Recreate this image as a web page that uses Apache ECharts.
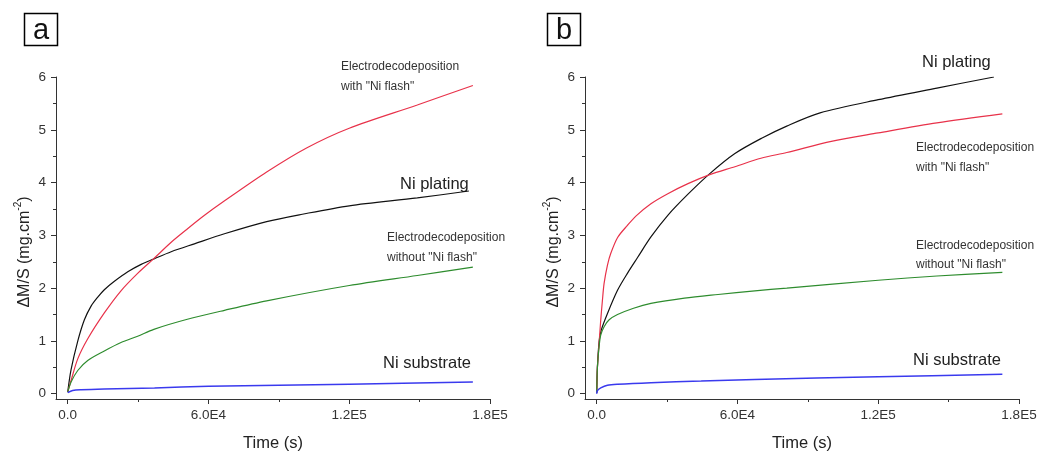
<!DOCTYPE html>
<html>
<head>
<meta charset="utf-8">
<script src="https://cdn.jsdelivr.net/npm/echarts@6/dist/echarts.min.js"></script>
<style>
  html, body { margin: 0; padding: 0; background: #fff; }
  #chart { width: 1039px; height: 453px; }
</style>
</head>
<body>
<div id="chart"></div>
<script>
// Mass gain per unit area (ΔM/S) versus time for two deposition conditions, panels a and b

const xTickValues = [0, 60000, 120000, 180000];
const xTickLabels = ['0.0', '6.0E4', '1.2E5', '1.8E5'];
const xMinorValues = [30000, 90000, 150000];
const yTickValues = [0, 1, 2, 3, 4, 5, 6];
const yTickLabels = ['0', '1', '2', '3', '4', '5', '6'];
const yMinorValues = [0.5, 1.5, 2.5, 3.5, 4.5, 5.5];

const seriesNames = ['Ni plating', 'Electrodecodeposition with "Ni flash"',
  'Electrodecodeposition without "Ni flash"', 'Ni substrate'];
const seriesColors = ['#111111', '#e8324a', '#2e8c2e', '#3a3aee'];

// panel a : [time (s), ΔM/S (mg.cm-2)]
const aPlating = [[0, 0.03], [1400, 0.45], [4300, 1.0], [7100, 1.40], [9950, 1.66], [12800, 1.83],
  [15600, 1.97], [19900, 2.13], [25600, 2.31], [31300, 2.45], [37000, 2.56], [44100, 2.69],
  [54000, 2.84], [66800, 3.03], [84800, 3.26], [100000, 3.40], [120000, 3.56], [149000, 3.71],
  [171000, 3.84]];
const aFlash = [[0, 0.03], [1420, 0.25], [4270, 0.66], [8530, 1.04], [15600, 1.53], [22700, 1.95],
  [29800, 2.28], [36700, 2.56], [44100, 2.87], [51200, 3.13], [58300, 3.38], [66100, 3.63],
  [84800, 4.20], [102000, 4.66], [120000, 5.03], [149000, 5.47], [172700, 5.84]];
const aNoFlash = [[0, 0.03], [1420, 0.22], [4270, 0.44], [8530, 0.63], [15600, 0.81], [22700, 0.97],
  [29800, 1.09], [36700, 1.22], [51000, 1.41], [66800, 1.58], [84800, 1.76], [120000, 2.05],
  [149000, 2.24], [172700, 2.40]];
const aSubstrate = [[0, 0.02], [2100, 0.06], [5700, 0.075], [15600, 0.09], [37000, 0.11],
  [60000, 0.14], [120000, 0.18], [172700, 0.22]];

// panel b
const bPlating = [[0, 0.02], [290, 0.5], [1000, 0.98], [1880, 1.2], [4570, 1.52], [8860, 1.96],
  [13200, 2.29], [17400, 2.58], [23100, 2.97], [30300, 3.38], [38900, 3.78], [48200, 4.17],
  [58900, 4.55], [70300, 4.84], [81000, 5.07], [95200, 5.32], [120000, 5.57], [145000, 5.79],
  [169300, 6.0]];
const bFlash = [[0, 0.02], [290, 0.5], [1000, 0.95], [1700, 1.39], [2430, 1.77], [3140, 2.09],
  [4600, 2.44], [6000, 2.66], [8900, 2.96], [13100, 3.19], [16800, 3.37], [23100, 3.60],
  [30300, 3.79], [38900, 3.98], [48200, 4.15], [58900, 4.30], [70000, 4.46], [81000, 4.57],
  [100000, 4.78], [120000, 4.94], [145000, 5.13], [172900, 5.30]];
const bNoFlash = [[0, 0.02], [290, 0.5], [1000, 0.89], [1700, 1.11], [3140, 1.27], [5300, 1.40],
  [8860, 1.50], [15700, 1.62], [23100, 1.71], [37400, 1.81], [51700, 1.88], [67400, 1.95],
  [81000, 2.00], [120000, 2.15], [145000, 2.23], [172900, 2.30]];
const bSubstrate = [[0, 0.0], [290, 0.06], [1700, 0.11], [4570, 0.16], [8860, 0.18], [23100, 0.21],
  [44500, 0.24], [67400, 0.27], [120000, 0.32], [172900, 0.37]];

const FONT = "'Liberation Sans', Arial, sans-serif";
const AXIS_COLOR = '#333';

function mainX(gridIndex) {
  return {
    type: 'value', gridIndex, position: 'bottom', min: -5000, max: 180000,
    axisLine: { show: true, onZero: false, lineStyle: { color: AXIS_COLOR, width: 1 } },
    axisTick: { show: true, customValues: xTickValues, length: 5, lineStyle: { color: AXIS_COLOR } },
    axisLabel: {
      customValues: xTickValues, margin: 9, fontSize: 13.5, color: '#333', fontFamily: FONT,
      formatter: v => xTickLabels[xTickValues.indexOf(v)]
    },
    splitLine: { show: false },
    name: 'Time (s)', nameLocation: 'middle', nameGap: 36, nameMoveOverlap: false,
    nameTextStyle: { fontSize: 16.5, color: '#222', fontFamily: FONT }
  };
}
function minorX(gridIndex) {
  return {
    type: 'value', gridIndex, position: 'bottom', min: -5000, max: 180000,
    axisLine: { show: false, onZero: false },
    axisTick: { show: true, customValues: xMinorValues, length: 3, lineStyle: { color: AXIS_COLOR } },
    axisLabel: { show: false }, splitLine: { show: false }
  };
}
function mainY(gridIndex) {
  return {
    type: 'value', gridIndex, position: 'left', min: -0.1, max: 6,
    axisLine: { show: true, onZero: false, lineStyle: { color: AXIS_COLOR, width: 1 } },
    axisTick: { show: true, customValues: yTickValues, length: 5, lineStyle: { color: AXIS_COLOR } },
    axisLabel: {
      customValues: yTickValues, margin: 10, fontSize: 13.5, color: '#333', fontFamily: FONT,
      formatter: v => yTickLabels[yTickValues.indexOf(v)]
    },
    splitLine: { show: false },
    name: '{n|ΔM/S (mg.cm}{s|-2}{n|)}', nameLocation: 'middle', nameRotate: 90, nameGap: 23,
    nameMoveOverlap: false,
    nameTextStyle: {
      color: '#222', fontFamily: FONT, padding: [0, 28, 0, 0],
      rich: {
        n: { fontSize: 16, lineHeight: 20, verticalAlign: 'bottom', color: '#222', fontFamily: FONT },
        s: { fontSize: 10, lineHeight: 20, verticalAlign: 'top', color: '#222', fontFamily: FONT }
      }
    }
  };
}
function minorY(gridIndex) {
  return {
    type: 'value', gridIndex, position: 'left', min: -0.1, max: 6,
    axisLine: { show: false, onZero: false },
    axisTick: { show: true, customValues: yMinorValues, length: 3, lineStyle: { color: AXIS_COLOR } },
    axisLabel: { show: false }, splitLine: { show: false }
  };
}

function curve(name, data, colorIndex, axisIndex, width) {
  return {
    type: 'line', name, data, xAxisIndex: axisIndex, yAxisIndex: axisIndex,
    showSymbol: false, smooth: 0.3, silent: true,
    lineStyle: { color: seriesColors[colorIndex], width: width || 1.2 },
    z: 3
  };
}

function txt(x, y, text, size, color) {
  return {
    type: 'text', x, y, silent: true,
    style: { text, fontSize: size, fontFamily: FONT, fill: color, verticalAlign: 'middle', align: 'left' }
  };
}
function panelTag(x, y, letter) {
  return [
    { type: 'rect', silent: true, shape: { x, y, width: 33, height: 32 },
      style: { fill: '#fff', stroke: '#000', lineWidth: 1.5 } },
    { type: 'text', silent: true, x: x + 16.5, y: y + 17,
      style: { text: letter, fontSize: 29, fontFamily: FONT, fill: '#111', align: 'center', verticalAlign: 'middle' } }
  ];
}

const chart = echarts.init(document.getElementById('chart'), null, { renderer: 'canvas' });
chart.setOption({
  animation: false,
  backgroundColor: '#fff',
  grid: [
    { left: 56, top: 77, width: 434, height: 322, outerBoundsMode: 'none', containLabel: false },
    { left: 585, top: 77, width: 434, height: 322, outerBoundsMode: 'none', containLabel: false }
  ],
  xAxis: [mainX(0), minorX(0), mainX(1), minorX(1)],
  yAxis: [mainY(0), minorY(0), mainY(1), minorY(1)],
  series: [
    curve(seriesNames[0], aPlating, 0, 0),
    curve(seriesNames[1], aFlash, 1, 0),
    curve(seriesNames[2], aNoFlash, 2, 0),
    curve(seriesNames[3], aSubstrate, 3, 0, 1.5),
    curve(seriesNames[0], bPlating, 0, 2),
    curve(seriesNames[1], bFlash, 1, 2),
    curve(seriesNames[2], bNoFlash, 2, 2),
    curve(seriesNames[3], bSubstrate, 3, 2, 1.5)
  ],
  graphic: [
    ...panelTag(24.5, 13.5, 'a'),
    ...panelTag(547.5, 13.5, 'b'),
    txt(341, 67, 'Electrodecodeposition', 12, '#333'),
    txt(341, 87, 'with "Ni flash"', 12, '#333'),
    txt(400, 184, 'Ni plating', 16.5, '#222'),
    txt(387, 238, 'Electrodecodeposition', 12, '#333'),
    txt(387, 258, 'without "Ni flash"', 12, '#333'),
    txt(383, 363, 'Ni substrate', 16.5, '#222'),
    txt(922, 62, 'Ni plating', 16.5, '#222'),
    txt(916, 148, 'Electrodecodeposition', 12, '#333'),
    txt(916, 168, 'with "Ni flash"', 12, '#333'),
    txt(916, 246, 'Electrodecodeposition', 12, '#333'),
    txt(916, 265, 'without "Ni flash"', 12, '#333'),
    txt(913, 360, 'Ni substrate', 16.5, '#222')
  ]
});
</script>
</body>
</html>
